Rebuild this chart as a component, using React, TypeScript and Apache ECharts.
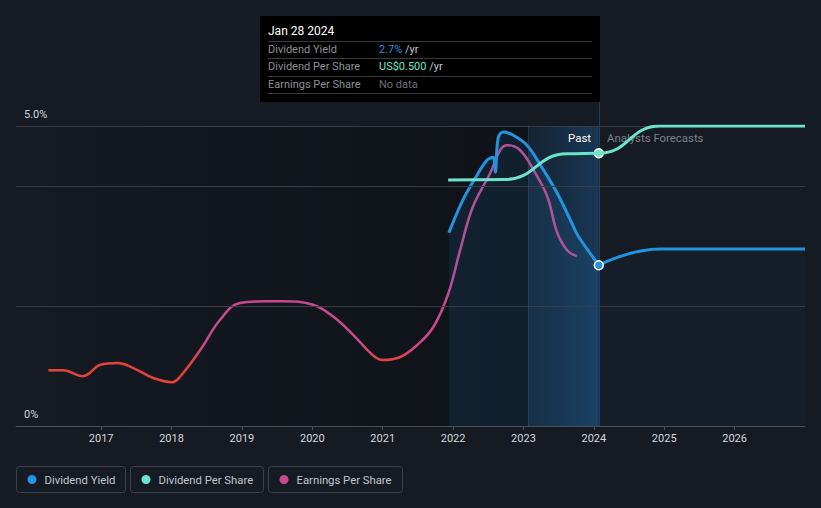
import React, { useEffect, useRef } from "react";
import * as echarts from "echarts";

// ---- data ----
const yearTicks = [2017, 2018, 2019, 2020, 2021, 2022, 2023, 2024, 2025, 2026];
const xMin = 2015.79;
const xMax = 2027.0;
const nowX = 2024.07;
const bandStartX = 2023.07;

// Dividend Yield (%) — past
const yieldPast: [number, number][] = [
  [2021.94, 3.22], [2022.14, 3.77], [2022.34, 4.18], [2022.48, 4.43], [2022.57, 4.48],
  [2022.6, 4.23], [2022.64, 4.8], [2022.71, 4.9], [2022.85, 4.85], [2023.05, 4.68],
  [2023.24, 4.35], [2023.48, 3.88], [2023.7, 3.35], [2023.77, 3.18], [2024.07, 2.68],
];
// Dividend Yield (%) — forecast
const yieldForecast: [number, number][] = [
  [2024.07, 2.68], [2024.95, 2.95], [2025.95, 2.95], [2027.0, 2.95],
];
// Dividend Per Share (US$)
const dps: [number, number][] = [
  [2021.93, 0.451], [2022.74, 0.452], [2023.62, 0.499], [2024.07, 0.5],
  [2024.94, 0.55], [2025.95, 0.55], [2027.0, 0.55],
];
// Earnings Per Share (relative scale)
const eps: [number, number][] = [
  [2016.25, 0.93], [2016.46, 0.93], [2016.74, 0.83], [2016.99, 1.02], [2017.23, 1.05],
  [2017.45, 0.97], [2017.74, 0.8], [2018.01, 0.73], [2018.12, 0.82], [2018.41, 1.27],
  [2018.69, 1.77], [2018.97, 2.05], [2019.36, 2.08], [2019.59, 2.08], [2020.01, 2.02],
  [2020.3, 1.82], [2020.58, 1.52], [2020.86, 1.18], [2021.0, 1.1], [2021.25, 1.15],
  [2021.49, 1.35], [2021.72, 1.65], [2021.93, 2.2], [2022.1, 2.93], [2022.28, 3.65],
  [2022.53, 4.22], [2022.67, 4.6], [2022.77, 4.68], [2022.95, 4.6], [2023.16, 4.23],
  [2023.34, 3.82], [2023.48, 3.22], [2023.62, 2.93], [2023.76, 2.83],
];
const gridValues = [2, 4, 5];

const BLUE = "#2394df";
const TEAL = "#6de3cb";
const PINK = "#c8498d";
const RED = "#e6423b";
const BG = "#151a23";

export default function App() {
  const ref = useRef<HTMLDivElement>(null);
  useEffect(() => {
    if (!ref.current) return;
    const chart = echarts.init(ref.current, null, { renderer: "svg" });
    const font = "Roboto, 'Noto Sans', sans-serif";

    const legendItems = [
      { x: 16.5, w: 109, color: BLUE, label: "Dividend Yield" },
      { x: 130.5, w: 133, color: TEAL, label: "Dividend Per Share" },
      { x: 268.5, w: 134, color: PINK, label: "Earnings Per Share" },
    ];

    const rows = [
      { y: 49, label: "Dividend Yield", value: "2.7%", vcolor: BLUE, unit: " /yr", vx: 379 },
      { y: 66, label: "Dividend Per Share", value: "US$0.500", vcolor: TEAL, unit: " /yr", vx: 379 },
      { y: 84, label: "Earnings Per Share", value: "No data", vcolor: "#6b6f75", unit: "", vx: 379 },
    ];

    const graphic: any[] = [
      // tooltip box
      { type: "rect", shape: { x: 260, y: 16, width: 340, height: 86 }, style: { fill: "#000" }, z: 10 },
      { type: "text", x: 268, y: 31, style: { text: "Jan 28 2024", fill: "#fff", font: `12px ${font}`, verticalAlign: "middle" }, z: 11 },
      ...[41, 58, 76, 93].map((y) => ({
        type: "line", shape: { x1: 268, y1: y + 0.5, x2: 592, y2: y + 0.5 }, style: { stroke: "#3a3a3a", lineWidth: 1 }, z: 11,
      })),
      ...rows.flatMap((r) => [
        { type: "text", x: 268, y: r.y, style: { text: r.label, fill: "#8c9096", font: `11px ${font}`, verticalAlign: "middle" }, z: 11 },
        {
          type: "text", x: r.vx, y: r.y, z: 11,
          style: {
            text: `{v|${r.value}}{u|${r.unit}}`, verticalAlign: "middle", font: `11px ${font}`,
            rich: { v: { fill: r.vcolor, font: `11px ${font}` }, u: { fill: "#c6c9cd", font: `11px ${font}` } },
          },
        },
      ]),
      // now line
      { type: "line", shape: { x1: 599.5, y1: 102, x2: 599.5, y2: 426 }, style: { stroke: "#233e57", lineWidth: 1 }, z: 1 },
      // past / forecast labels
      { type: "text", x: 591, y: 138, style: { text: "Past", fill: "#ffffff", font: `11.4px ${font}`, align: "right", verticalAlign: "middle" }, z: 5 },
      { type: "text", x: 607, y: 138, style: { text: "Analysts Forecasts", fill: "#7b828b", font: `11.4px ${font}`, verticalAlign: "middle" }, z: 5 },
      // y labels
      { type: "text", x: 24, y: 114, style: { text: "5.0%", fill: "#d4d6d9", font: `11px ${font}`, verticalAlign: "middle" }, z: 5 },
      { type: "text", x: 24, y: 414, style: { text: "0%", fill: "#d4d6d9", font: `11px ${font}`, verticalAlign: "middle" }, z: 5 },
      // legend
      ...legendItems.flatMap((it) => [
        { type: "rect", shape: { x: it.x, y: 466.5, width: it.w, height: 26, r: 3 }, style: { fill: "none", stroke: "#3b414b", lineWidth: 1 } },
        { type: "circle", shape: { cx: it.x + 15.5, cy: 479.5, r: 4.5 }, style: { fill: it.color } },
        { type: "text", x: it.x + 28, y: 480, style: { text: it.label, fill: "#c3c6ca", font: `11.3px ${font}`, verticalAlign: "middle" } },
      ]),
    ];

    chart.setOption({
      animation: false,
      backgroundColor: BG,
      grid: { left: 16, right: 16, top: 126, bottom: 82 },
      graphic,
      visualMap: {
        show: false, type: "piecewise", seriesIndex: 0, dimension: 1,
        pieces: [
          { lt: 1.12, color: RED },
          { gte: 1.12, lt: 1.2, color: "#de4452" },
          { gte: 1.2, lt: 1.28, color: "#d6466b" },
          { gte: 1.28, lt: 1.36, color: "#ce487f" },
          { gte: 1.36, color: PINK },
        ],
      },
      xAxis: {
        type: "value", min: xMin, max: xMax,
        axisLine: { show: true, lineStyle: { color: "#4a4f58", width: 1 } },
        axisTick: { show: true, customValues: yearTicks, length: 4, lineStyle: { color: "#4a4f58" } },
        axisLabel: {
          show: true, customValues: yearTicks, formatter: (v: number) => String(Math.round(v)),
          color: "#d6d8db", fontSize: 11, fontFamily: font, margin: 7,
        },
        splitLine: { show: false },
      },
      yAxis: [
        { type: "value", min: 0, max: 5, show: false, splitLine: { show: false } },
        { type: "value", min: 0, max: 0.55, show: false, splitLine: { show: false } },
        { type: "value", min: 0, max: 5, show: false, splitLine: { show: false } },
      ],
      series: [
        {
          name: "Earnings Per Share", type: "line", yAxisIndex: 2, data: eps, smooth: 0.4,
          showSymbol: false, lineStyle: { width: 2.5 }, z: 3,
          markArea: {
            silent: true,
            data: [
              [
                {
                  xAxis: xMin,
                  itemStyle: {
                    color: new echarts.graphic.LinearGradient(0, 0, 1, 0, [
                      { offset: 0, color: "rgba(0,0,0,0)" },
                      { offset: 0.84, color: "rgba(0,0,0,0.27)" },
                      { offset: 1, color: "rgba(0,0,0,0.32)" },
                    ]),
                  },
                },
                { xAxis: bandStartX },
              ],
              [
                {
                  xAxis: bandStartX,
                  itemStyle: {
                    color: new echarts.graphic.LinearGradient(0, 0, 1, 0, [
                      { offset: 0, color: "rgba(28,100,165,0.12)" },
                      { offset: 1, color: "rgba(32,115,185,0.34)" },
                    ]),
                  },
                },
                { xAxis: nowX },
              ],
            ],
          },
          markLine: {
            silent: true, symbol: "none", label: { show: false },
            data: [
              ...gridValues.map((v) => ({ yAxis: v, lineStyle: { color: "#373c45", width: 1, type: "solid" } })),
              { xAxis: bandStartX, lineStyle: { color: "rgba(60,110,160,0.3)", width: 1, type: "solid" } },
            ],
          },
        },
        {
          name: "Dividend Yield", type: "line", yAxisIndex: 0, data: yieldPast, smooth: 0.35,
          showSymbol: false, lineStyle: { color: BLUE, width: 3 }, itemStyle: { color: BLUE },
          areaStyle: { color: "rgba(35,148,223,0.17)", origin: "start" }, z: 4,
          markPoint: {
            silent: true, symbol: "circle", symbolSize: 9, label: { show: false },
            itemStyle: { color: BLUE, borderColor: "#ffffff", borderWidth: 1.5 },
            data: [{ coord: [nowX, 2.68] }],
          },
        },
        {
          name: "Dividend Yield Forecast", type: "line", yAxisIndex: 0, data: yieldForecast, smooth: 0.5,
          smoothMonotone: "x",
          showSymbol: false, lineStyle: { color: BLUE, width: 3 }, itemStyle: { color: BLUE },
          areaStyle: { color: "rgba(35,148,223,0.05)", origin: "start" }, z: 4,
        },
        {
          name: "Dividend Per Share", type: "line", yAxisIndex: 1, data: dps, smooth: 0.5,
          smoothMonotone: "x",
          showSymbol: false, lineStyle: { color: TEAL, width: 3 }, itemStyle: { color: TEAL }, z: 5,
          markPoint: {
            silent: true, symbol: "circle", symbolSize: 9, label: { show: false },
            itemStyle: { color: TEAL, borderColor: "#ffffff", borderWidth: 1.5 },
            data: [{ coord: [nowX, 0.5] }],
          },
        },
      ],
    });
    return () => chart.dispose();
  }, []);
  return (
    <div
      ref={ref}
      style={{ position: "fixed", left: 0, top: 0, width: 821, height: 508 }}
    />
  );
}
